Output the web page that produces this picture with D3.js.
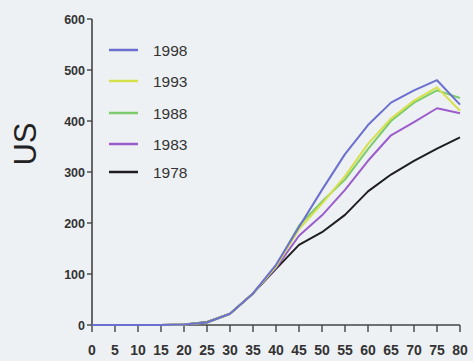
<!DOCTYPE html>
<html>
<head>
<meta charset="utf-8">
<script src="https://cdn.jsdelivr.net/npm/d3@7"></script>
<style>
body { margin: 0; background: #eef1f3; }
svg { display: block; }
</style>
</head>
<body>
<script>
var width = 473, height = 361;

// ages on the x axis
var ages = [0, 5, 10, 15, 20, 25, 30, 35, 40, 45, 50, 55, 60, 65, 70, 75, 80];
var xTicks = [0, 5, 10, 15, 20, 25, 30, 35, 40, 45, 50, 55, 60, 65, 70, 75, 80];
var yTicks = [0, 100, 200, 300, 400, 500, 600];
var seriesNames = ["1998", "1993", "1988", "1983", "1978"];
var colors = ["#6b6fcf", "#d6e04c", "#7ccb6c", "#9b5ccc", "#1e1e22"];

var v1998 = [0, 0, 0, 0, 1, 5, 22, 62, 118, 192, 265, 335, 392, 436, 460, 480, 432];
var v1993 = [0, 0, 0, 0, 1, 5, 22, 62, 115, 188, 238, 292, 355, 405, 440, 466, 420];
var v1988 = [0, 0, 0, 0, 1, 5, 22, 62, 115, 195, 242, 285, 345, 400, 436, 460, 445];
var v1983 = [0, 0, 0, 0, 1, 5, 22, 62, 112, 175, 215, 265, 322, 372, 398, 425, 415];
var v1978 = [0, 0, 0, 0, 1, 6, 22, 62, 110, 157, 182, 216, 262, 295, 322, 346, 368];
var allValues = [v1998, v1993, v1988, v1983, v1978];

var svg = d3.select("body")
    .append("svg")
    .attr("width", width)
    .attr("height", height);

var x = d3.scaleLinear().domain([0, 80]).range([92, 460]);
var y = d3.scaleLinear().domain([0, 600]).range([325, 19]);

// y axis
svg.append("line")
    .attr("x1", x(0)).attr("x2", x(0))
    .attr("y1", y(600)).attr("y2", y(0))
    .attr("stroke", "#444").attr("stroke-width", 1.6);

svg.selectAll(".ytick")
    .data(yTicks)
    .enter()
    .append("line")
    .attr("x1", x(0) - 5).attr("x2", x(0))
    .attr("y1", function (d) { return y(d); })
    .attr("y2", function (d) { return y(d); })
    .attr("stroke", "#444").attr("stroke-width", 1.4);

svg.selectAll(".ylab")
    .data(yTicks)
    .enter()
    .append("text")
    .attr("x", x(0) - 7)
    .attr("y", function (d) { return y(d) + 4.5; })
    .attr("text-anchor", "end")
    .attr("font-family", "Liberation Sans, Arial, sans-serif")
    .attr("font-weight", "bold")
    .attr("font-size", 12.5)
    .attr("fill", "#333")
    .text(function (d) { return d; });

// x axis
svg.append("line")
    .attr("x1", x(0)).attr("x2", x(80))
    .attr("y1", y(0)).attr("y2", y(0))
    .attr("stroke", "#444").attr("stroke-width", 1.6);

svg.selectAll(".xtick")
    .data(xTicks)
    .enter()
    .append("line")
    .attr("x1", function (d) { return x(d); })
    .attr("x2", function (d) { return x(d); })
    .attr("y1", y(0)).attr("y2", y(0) + 7)
    .attr("stroke", "#444").attr("stroke-width", 1.4);

svg.selectAll(".xlab")
    .data(xTicks)
    .enter()
    .append("text")
    .attr("x", function (d) { return x(d); })
    .attr("y", 355)
    .attr("text-anchor", "middle")
    .attr("font-family", "Liberation Sans Narrow, Liberation Sans, sans-serif")
    .attr("font-weight", "bold")
    .attr("font-size", 14)
    .attr("fill", "#333")
    .text(function (d) { return d; });

// y label
svg.append("text")
    .attr("transform", "translate(36,144) rotate(-90)")
    .attr("text-anchor", "middle")
    .attr("font-family", "Liberation Sans, Arial, sans-serif")
    .attr("font-size", 31)
    .attr("fill", "#222")
    .text("US");

// lines (oldest drawn first)
var line = d3.line()
    .x(function (d, i) { return x(ages[i]); })
    .y(function (d) { return y(d); });

for (var i = allValues.length - 1; i >= 0; i--) {
    svg.append("path")
        .attr("d", line(allValues[i]))
        .attr("fill", "none")
        .attr("stroke", colors[i])
        .attr("stroke-width", 2)
        .attr("stroke-linejoin", "round");
}

// legend
var legendY = [50, 81, 113, 144, 172];
for (var j = 0; j < seriesNames.length; j++) {
    svg.append("line")
        .attr("x1", 109).attr("x2", 138)
        .attr("y1", legendY[j]).attr("y2", legendY[j])
        .attr("stroke", colors[j]).attr("stroke-width", 2.5);
    svg.append("text")
        .attr("x", 153)
        .attr("y", legendY[j] + 6)
        .attr("font-family", "Liberation Sans, Arial, sans-serif")
        .attr("font-size", 15.5)
        .attr("fill", "#333")
        .text(seriesNames[j]);
}
</script>
</body>
</html>
